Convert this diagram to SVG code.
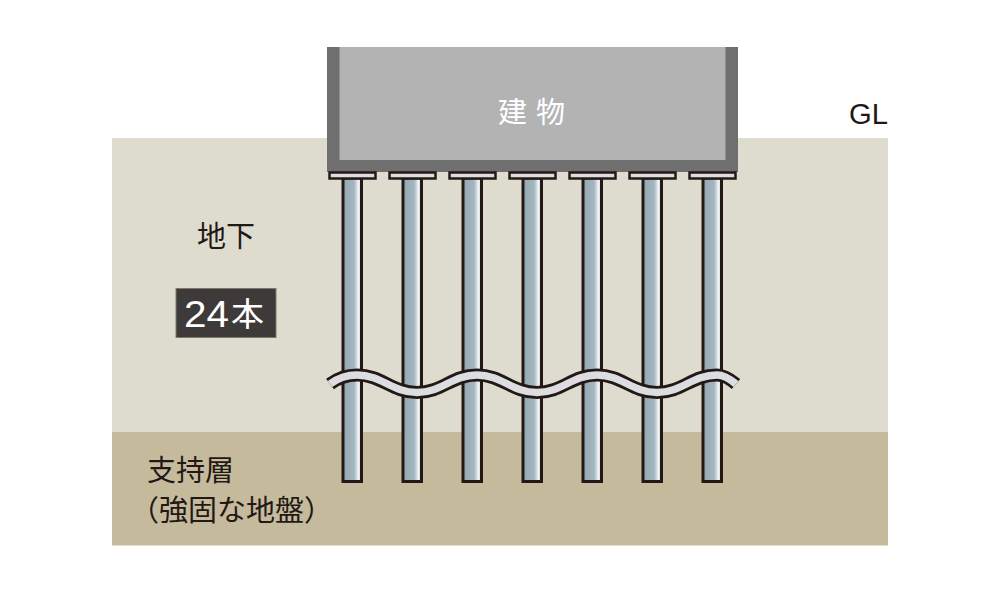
<svg xmlns="http://www.w3.org/2000/svg" width="1000" height="599" viewBox="0 0 1000 599">
<style>
.t{font-family:"Noto Sans CJK JP","Liberation Sans",sans-serif;font-size:29px;fill:#231815}
.w{fill:#fff}
.l{font-family:"Liberation Sans","Noto Sans CJK JP",sans-serif}
.shaft{fill:url(#steel);stroke:#231815;stroke-width:3}
.cap{fill:#dcdde0;stroke:#231815;stroke-width:2.5}
.wave{fill:none}
</style>
<defs>
<linearGradient id="steel" x1="0" x2="1" y1="0" y2="0">
<stop offset="0" stop-color="#93a8b3"/><stop offset="0.6" stop-color="#a3b6c0"/><stop offset="0.84" stop-color="#f2f4f5"/><stop offset="1" stop-color="#b9c5cb"/>
</linearGradient>
<g id="pile">
<rect class="shaft" x="-9" y="178" width="18.500" height="303.500"/>
<rect class="cap" x="-22.500" y="172.500" width="46" height="6"/>
</g>
</defs>
<rect width="1000" height="599" fill="#fff"/>
<g id="ground">
<rect x="112" y="138" width="776" height="294" fill="#dedccf"/>
<rect x="112" y="432" width="776" height="113.500" fill="#c5bb9c"/>
</g>
<g id="building">
<rect x="327" y="47" width="411" height="125" fill="#6f6f6f"/>
<rect x="339.500" y="47" width="386" height="113" fill="#b3b3b3"/>
<text class="t w" x="498" y="123" letter-spacing="9">建物</text>
</g>
<g id="piles">
<use href="#pile" x="352"/>
<use href="#pile" x="412"/>
<use href="#pile" x="472"/>
<use href="#pile" x="532"/>
<use href="#pile" x="592"/>
<use href="#pile" x="652"/>
<use href="#pile" x="712"/>
</g>
<g id="connectors">
<path class="wave" stroke="#231815" stroke-width="13" d="M330,384 C338,378 347,375 357,375 C382,375 392,392.500 417,392.500 C442,392.500 452,375 477,375 C502,375 512,392.500 537,392.500 C562,392.500 572,375 597,375 C622,375 632,392.500 657,392.500 C682,392.500 692,375 717,375 C724,375 730,379 736,384"/>
<path class="wave" stroke="#dcdde0" stroke-width="7.500" d="M330,384 C338,378 347,375 357,375 C382,375 392,392.500 417,392.500 C442,392.500 452,375 477,375 C502,375 512,392.500 537,392.500 C562,392.500 572,375 597,375 C622,375 632,392.500 657,392.500 C682,392.500 692,375 717,375 C724,375 730,379 736,384"/>
</g>
<g id="gl"><text class="t l" x="849" y="124" style="font-size:29px" textLength="39" lengthAdjust="spacingAndGlyphs">GL</text></g>
<g id="underground"><text class="t" x="197" y="247">地下</text></g>
<g id="count">
<rect x="176" y="288.500" width="100" height="49" fill="#3e3a39" stroke="#7d766c" stroke-width="1"/>
<text class="t l w" x="184" y="327" style="font-size:36px" textLength="45" lengthAdjust="spacingAndGlyphs">24</text>
<text class="t w" x="231" y="326" style="font-size:33px">本</text>
</g>
<g id="bearing">
<text class="t" x="147" y="481">支持層</text>
<text class="t" x="130" y="521">（強固な地盤）</text>
</g>
</svg>
